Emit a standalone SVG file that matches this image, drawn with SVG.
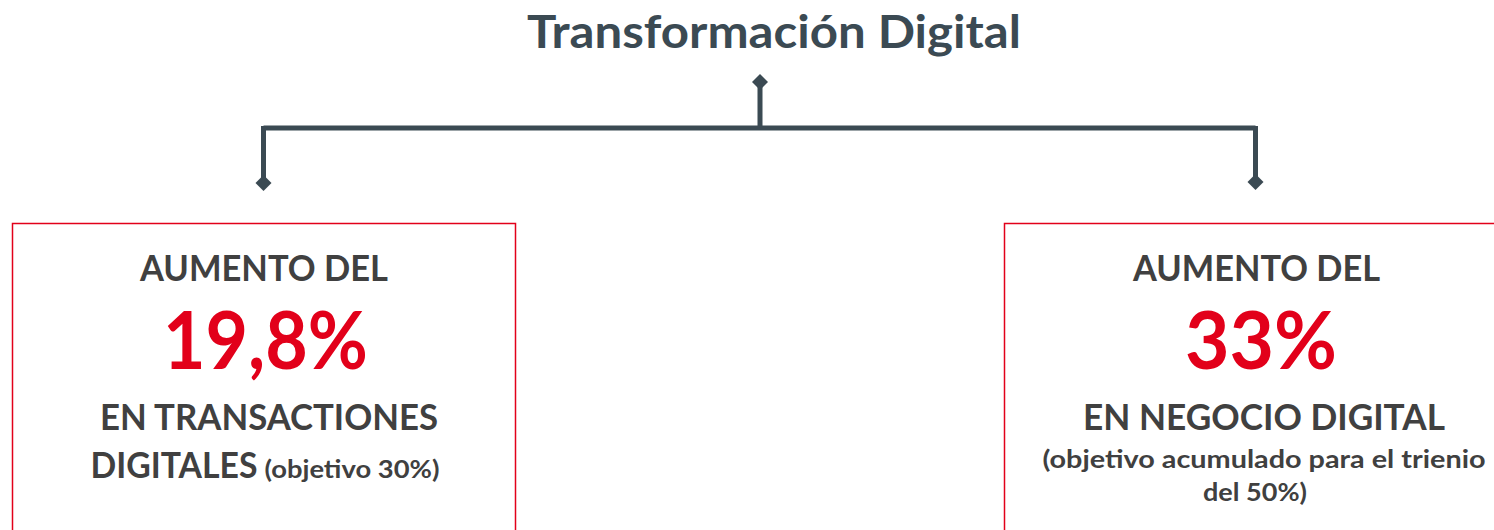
<svg xmlns="http://www.w3.org/2000/svg" width="1494" height="530" viewBox="0 0 1494 530">
<defs>
<style>
.t{font-family:Lato,"Open Sans","Liberation Sans",sans-serif;font-weight:bold;text-anchor:middle}
.g{fill:#404040}
.r{fill:#e2001a}
.box{fill:#ffffff;stroke:#e2001a;stroke-width:1.5}
.con{fill:none;stroke:#3b4a53;stroke-width:5}
.dia{fill:#3b4a53}
</style>
</defs>
<rect width="1494" height="530" fill="#ffffff"/>
<g id="title">
<text class="t" x="774" y="48" font-size="46" fill="#3b4a53" textLength="494" lengthAdjust="spacingAndGlyphs">Transformación Digital</text>
</g>
<g id="connectors">
<path class="con" d="M760 84 V128 M263.5 128 H1255.5 M263.5 126 V180 M1255.5 126 V180"/>
<polygon class="dia" points="760,74 768,82 760,90 752,82"/>
<polygon class="dia" points="263.5,175 271.5,183 263.5,191 255.5,183"/>
<polygon class="dia" points="1255.5,174 1263.5,182 1255.5,190 1247.5,182"/>
</g>
<g id="box-left">
<rect class="box" x="12.5" y="223.5" width="503" height="320"/>
<text class="t g" x="264" y="281" font-size="36" textLength="248" lengthAdjust="spacingAndGlyphs">AUMENTO DEL</text>
<text class="t r" x="265.5" y="369" font-size="80" textLength="205" lengthAdjust="spacingAndGlyphs">19,8%</text>
<text class="t g" x="269" y="430" font-size="36" textLength="338" lengthAdjust="spacingAndGlyphs">EN TRANSACTIONES</text>
<text class="t g" x="265" y="478" font-size="36"><tspan font-size="36" textLength="167" lengthAdjust="spacingAndGlyphs">DIGITALES</tspan><tspan font-size="24" dx="7" textLength="175" lengthAdjust="spacingAndGlyphs">(objetivo 30%)</tspan></text>
</g>
<g id="box-right">
<rect class="box" x="1004.5" y="223.5" width="520" height="320"/>
<text class="t g" x="1256.5" y="281" font-size="36" textLength="247" lengthAdjust="spacingAndGlyphs">AUMENTO DEL</text>
<text class="t r" x="1261" y="369" font-size="80" textLength="152" lengthAdjust="spacingAndGlyphs">33%</text>
<text class="t g" x="1264" y="430" font-size="36" textLength="362" lengthAdjust="spacingAndGlyphs">EN NEGOCIO DIGITAL</text>
<text class="t g" x="1264" y="468" font-size="24" textLength="443" lengthAdjust="spacingAndGlyphs">(objetivo acumulado para el trienio</text>
<text class="t g" x="1255" y="501" font-size="24" textLength="104" lengthAdjust="spacingAndGlyphs">del 50%)</text>
</g>
</svg>
